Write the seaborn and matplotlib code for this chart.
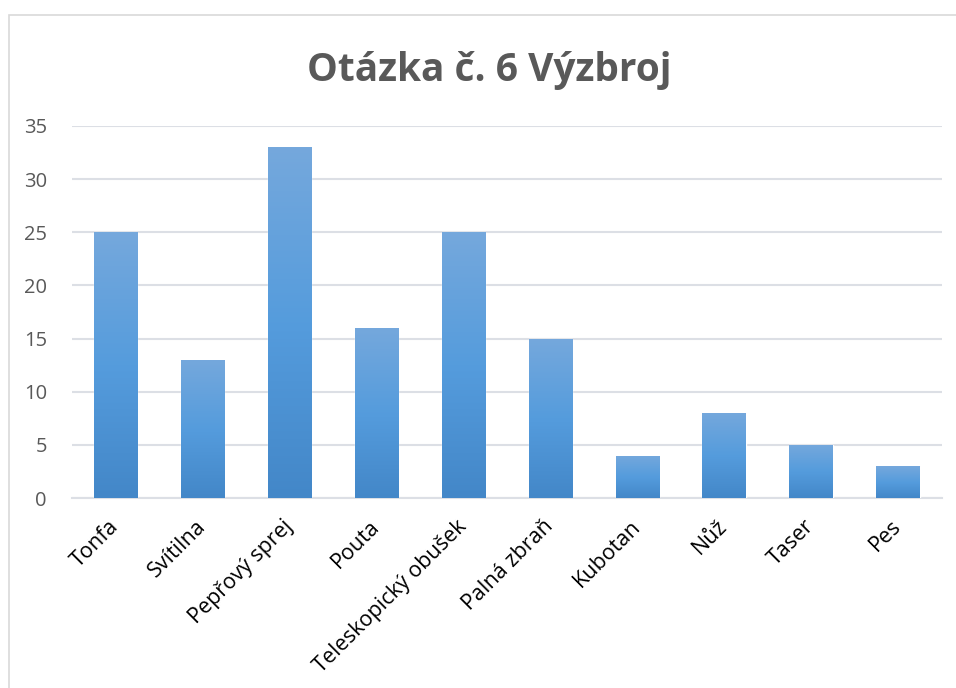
import numpy as np
import pandas as pd
import seaborn as sns
import matplotlib.pyplot as plt
from matplotlib.colors import LinearSegmentedColormap
from matplotlib.patches import Rectangle

categories = ['Tonfa', 'Svítilna', 'Pepřový sprej', 'Pouta', 'Teleskopický obušek',
              'Palná zbraň', 'Kubotan', 'Nůž', 'Taser', 'Pes']
values = [25, 13, 33, 16, 25, 15, 4, 8, 5, 3]
yticks = [0, 5, 10, 15, 20, 25, 30, 35]

df = pd.DataFrame({'item': categories, 'count': values})

sns.set_theme(style='white')
plt.rcParams['font.family'] = ['Open Sans', 'DejaVu Sans']

fig = plt.figure(figsize=(9.56, 6.88), dpi=100)
ax = fig.add_axes([0.0753, 0.276, 0.9097, 0.541])

sns.barplot(data=df, x='item', y='count', color='#5B9BD5', width=0.5, ax=ax, zorder=3)

# gradient fill clipped to each bar
cmap = LinearSegmentedColormap.from_list('grad', ['#4387C8', '#559CDD', '#75A8DC'])
grad = np.linspace(0, 1, 256).reshape(-1, 1)
for bar in ax.patches:
    x0, y0 = bar.get_x(), bar.get_y()
    w, h = bar.get_width(), bar.get_height()
    im = ax.imshow(grad, cmap=cmap, aspect='auto', origin='lower',
                   extent=[x0, x0 + w, y0, y0 + h], zorder=4)
    im.set_clip_path(bar)

ax.set_xlim(-0.5, len(categories) - 0.5)
ax.set_ylim(0, 35)
ax.set_yticks(yticks)
ax.yaxis.grid(True, color='#DCDFE5', linewidth=1.5, zorder=0)
ax.set_axisbelow(True)
for s in ['top', 'right', 'left']:
    ax.spines[s].set_visible(False)
ax.spines['bottom'].set_color('#DCDFE5')
ax.spines['bottom'].set_linewidth(1.5)
ax.set_xlabel('')
ax.set_ylabel('')
ax.tick_params(axis='y', labelsize=14.5, labelcolor='#595959', length=0, pad=18)
ax.tick_params(axis='x', labelsize=15.5, labelcolor='black', length=0, pad=18)
plt.setp(ax.get_xticklabels(), rotation=45, ha='right', va='center', rotation_mode='anchor')

fig.text(0.512, 0.898, 'Otázka č. 6 Výzbroj', ha='center', va='center',
         fontsize=28, fontweight='bold', color='#595959')

# chart frame
fig.patches.append(Rectangle((9 / 956, -0.05), 1.0, 0.05 + (688 - 15) / 688,
                             transform=fig.transFigure, fill=False,
                             edgecolor='#D9D9D9', linewidth=1.2))

fig.savefig('out.png', dpi=100)
